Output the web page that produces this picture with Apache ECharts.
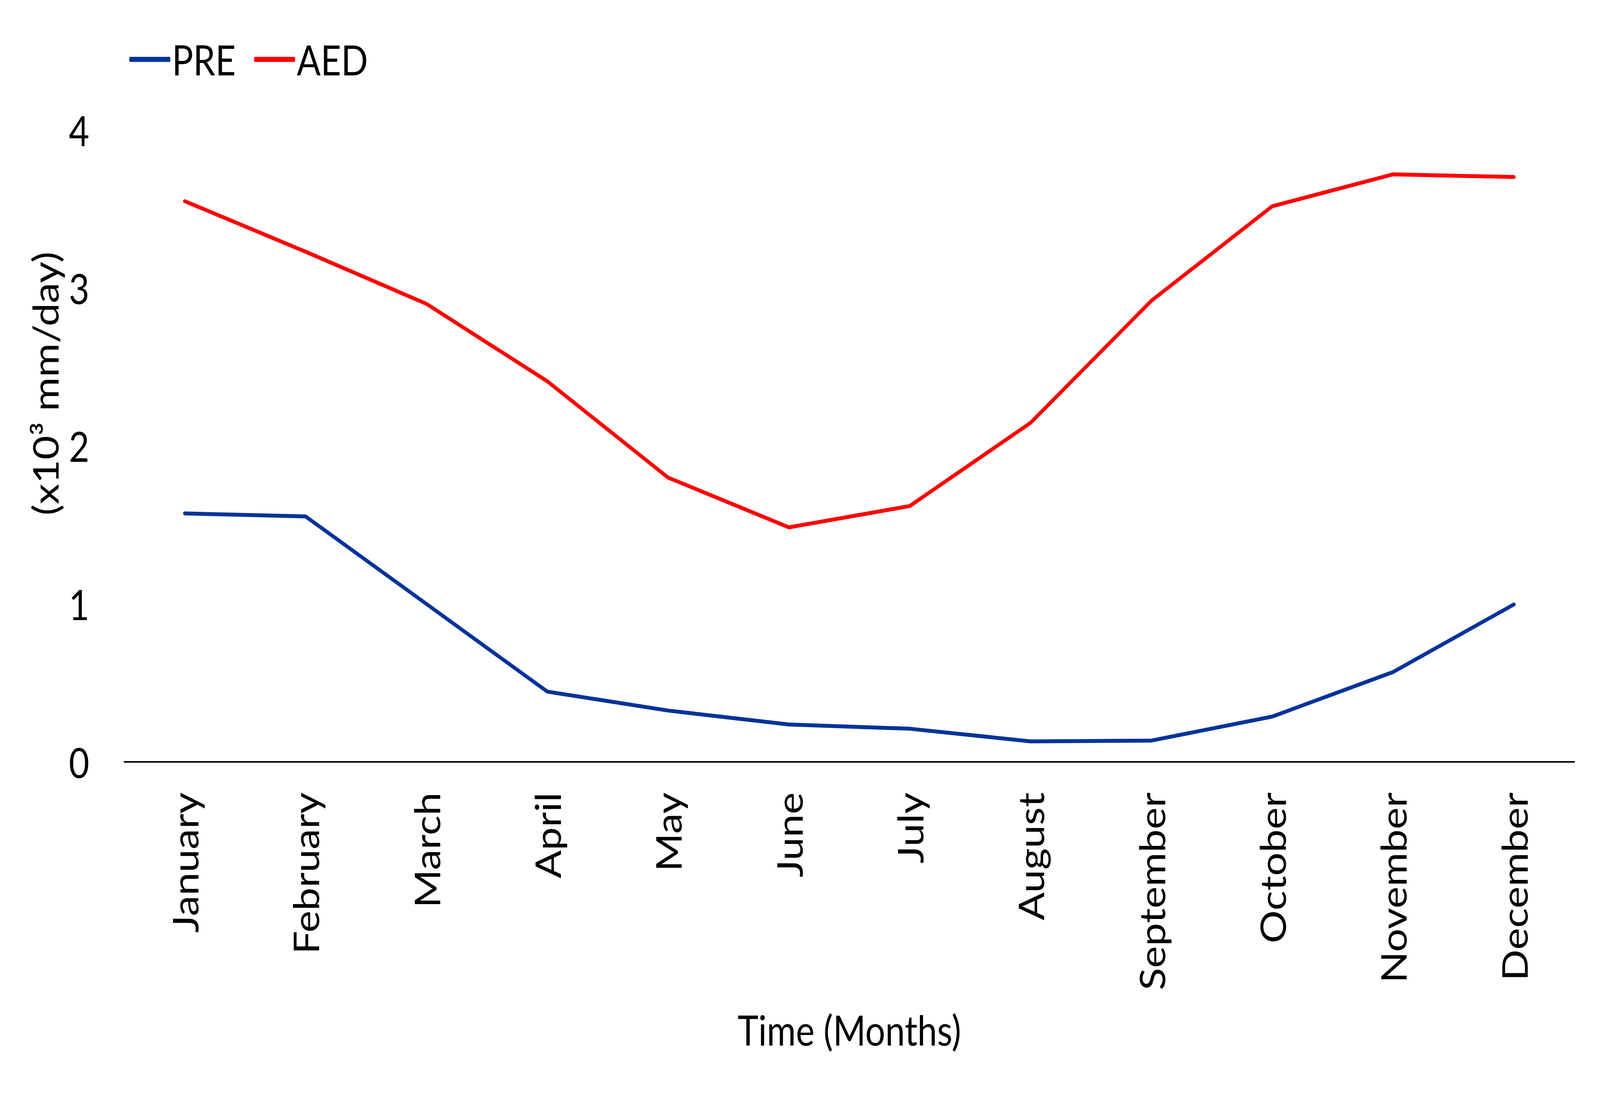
<!DOCTYPE html>
<html>
<head>
<meta charset="utf-8">
<script src="https://cdn.jsdelivr.net/npm/echarts@6/dist/echarts.min.js"></script>
<style>
html,body{margin:0;padding:0;background:#fff;overflow:hidden;}
#chart{width:4800px;height:2800px;transform-origin:0 0;}
</style>
</head>
<body>
<div id="chart"></div>
<script>
const months = ['January','February','March','April','May','June','July','August','September','October','November','December'];
const preValues = [1.573, 1.554, 1.00, 0.445, 0.325, 0.237, 0.21, 0.13, 0.135, 0.287, 0.569, 0.997];
const aedValues = [3.55, 3.23, 2.90, 2.41, 1.80, 1.485, 1.62, 2.147, 2.92, 3.518, 3.72, 3.703];
const yTicks = [0, 1, 2, 3, 4];
const seriesNames = ['PRE', 'AED'];
const seriesColors = ['#003399', '#FF0000'];

// fit the 4800x2800 design into whatever viewport the browser actually has
const box = document.getElementById('chart');
const sx = (window.innerWidth || 4800) / 4800;
const sy = (window.innerHeight || 2800) / 2800;
box.style.transform = 'scale(' + sx + ',' + sy + ')';

const FONT = 'Lato';
const FS = 106;
const chart = echarts.init(box, null, {renderer: 'svg', width: 4800, height: 2800});
chart.setOption({
  backgroundColor: '#ffffff',
  animation: false,
  textStyle: {fontFamily: FONT, color: '#000'},
  legend: {
    left: 383, top: 94,
    itemWidth: 123, itemHeight: 13, itemGap: 55,
    icon: 'roundRect',
    textStyle: {fontFamily: FONT, fontSize: FS, color: '#000'},
    data: seriesNames
  },
  grid: {left: 373, right: 77, top: 333, bottom: 850, containLabel: false},
  xAxis: {
    type: 'category',
    data: months,
    boundaryGap: true,
    axisLine: {lineStyle: {color: '#000', width: 4}},
    axisTick: {show: false},
    axisLabel: {rotate: 90, margin: 78, fontFamily: FONT, fontSize: FS, color: '#000'},
    name: 'Time (Months)',
    nameLocation: 'middle',
    nameGap: 632,
    nameTextStyle: {fontFamily: FONT, fontSize: FS, color: '#000'}
  },
  yAxis: {
    type: 'value',
    min: yTicks[0], max: yTicks[yTicks.length - 1], interval: 1,
    axisLine: {show: false},
    axisTick: {show: false},
    splitLine: {show: false},
    axisLabel: {margin: 105, fontFamily: FONT, fontSize: FS, color: '#000'},
    name: '(x10\u00B3 mm/day)',
    nameLocation: 'middle',
    nameGap: 185,
    nameTextStyle: {fontFamily: FONT, fontSize: FS, color: '#000', padding: [0, 0, 0, 320]}
  },
  series: [
    {name: seriesNames[0], type: 'line', data: preValues, showSymbol: false, symbol: 'none',
     lineStyle: {color: seriesColors[0], width: 10, cap: 'round', join: 'round'}, itemStyle: {color: seriesColors[0]}},
    {name: seriesNames[1], type: 'line', data: aedValues, showSymbol: false, symbol: 'none',
     lineStyle: {color: seriesColors[1], width: 10, cap: 'round', join: 'round'}, itemStyle: {color: seriesColors[1]}}
  ]
});
</script>
</body>
</html>
